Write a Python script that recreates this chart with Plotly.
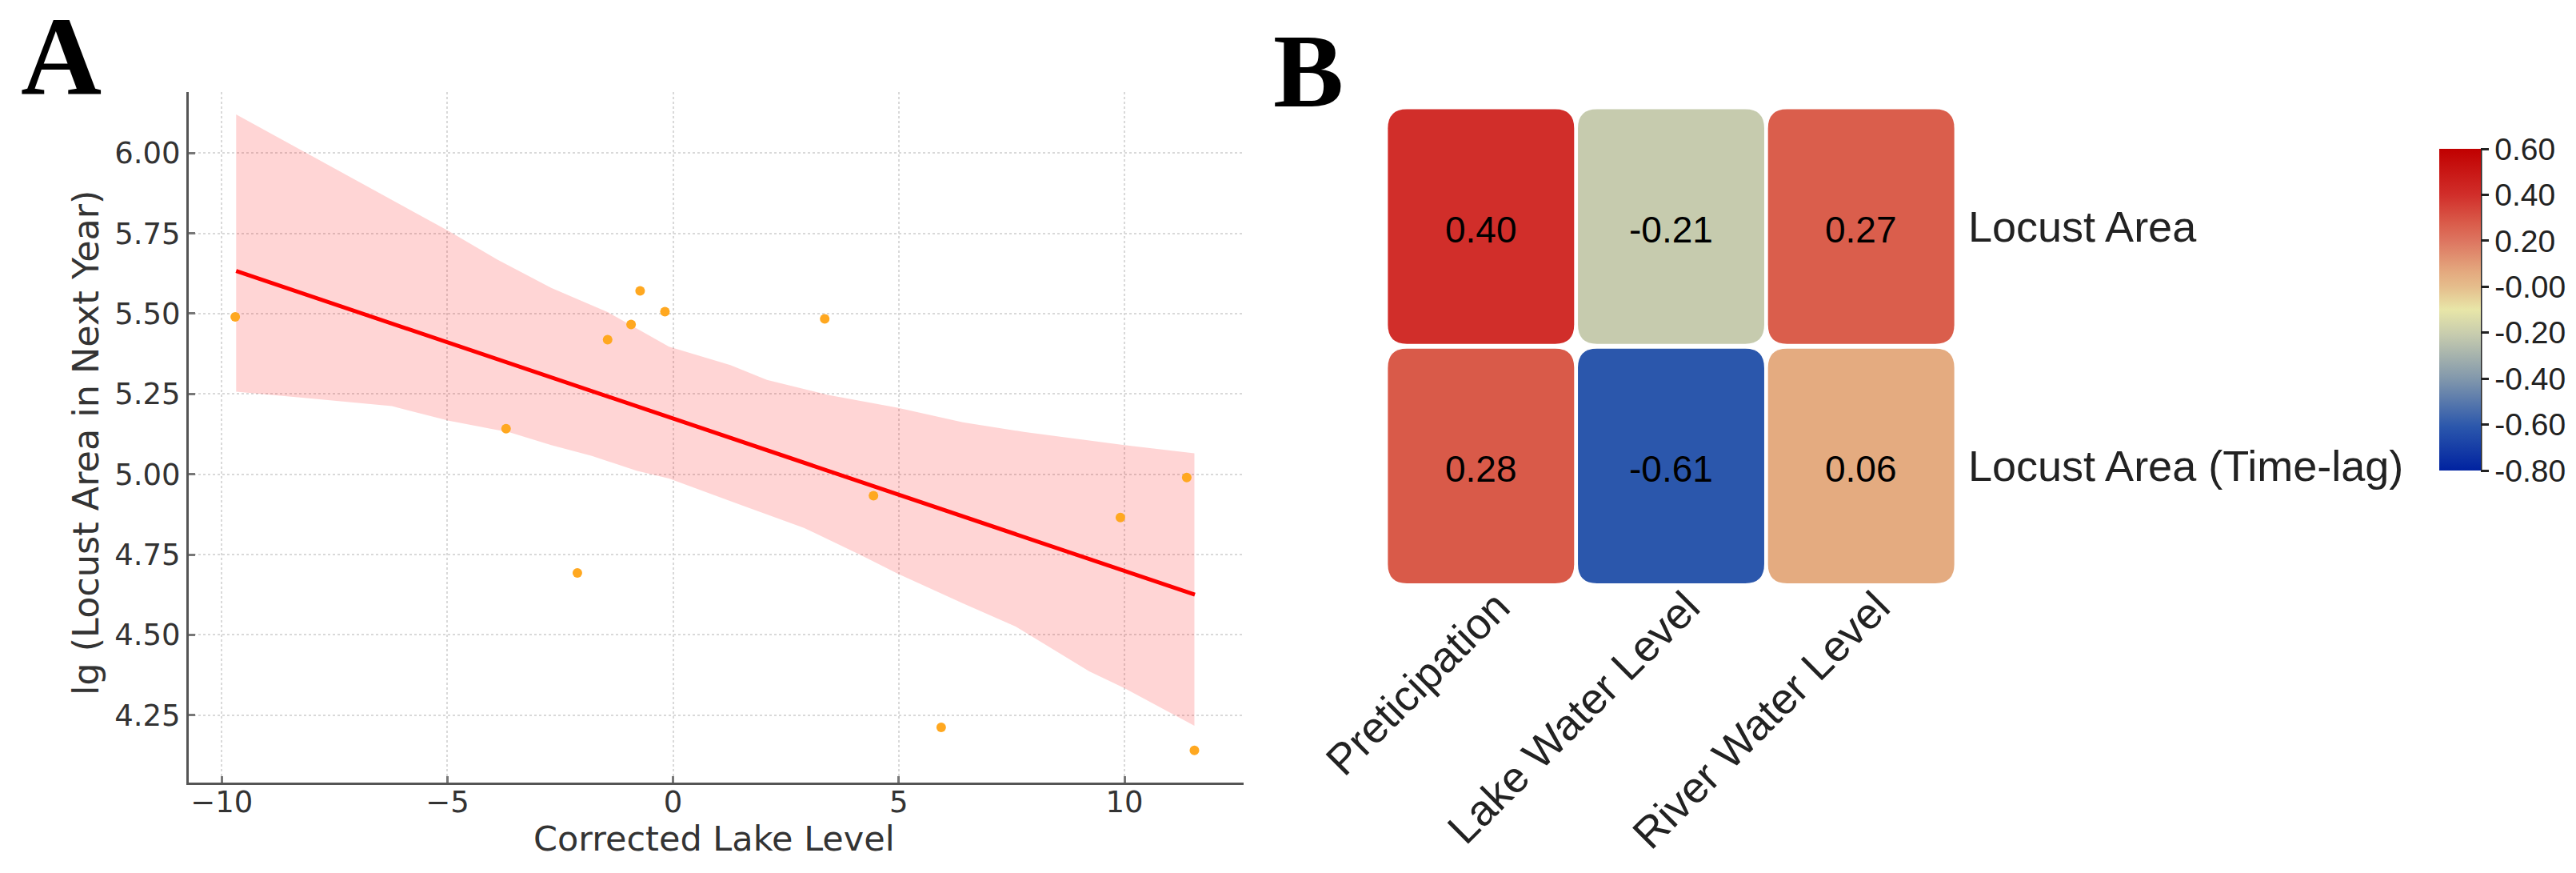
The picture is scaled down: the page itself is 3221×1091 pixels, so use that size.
import numpy as np
import plotly.colors as pc
import plotly.graph_objects as go

# panel A, values
lake_level = [-9.70, -3.70, -2.12, -1.45, -0.93, -0.73, -0.18, 3.36, 4.44, 5.94, 9.91, 11.38, 11.55]
locust_area = [5.49, 5.142, 4.693, 5.419, 5.466, 5.571, 5.506, 5.484, 4.933, 4.212, 4.865, 4.99, 4.14]

fit_x = [-9.68, 11.56]
fit_y = [5.633, 4.625]

band_upper_x = [-9.68, -8.12, -4.97, -3.89, -2.70, -1.44, -0.09, 1.27, 2.08, 3.43, 4.97, 6.42, 7.77, 10.0, 11.55]
band_upper_y = [6.12, 6.00, 5.757, 5.668, 5.58, 5.504, 5.397, 5.34, 5.294, 5.247, 5.207, 5.162, 5.132, 5.091, 5.065]
band_lower_x = [-9.68, -8.12, -6.23, -4.97, -3.61, -2.70, -1.80, -0.81, -0.09, 1.45, 2.9, 4.16, 4.97, 6.42, 7.59, 9.22, 10.0, 11.55]
band_lower_y = [5.257, 5.237, 5.212, 5.167, 5.13, 5.091, 5.057, 5.011, 4.987, 4.907, 4.833, 4.748, 4.691, 4.598, 4.526, 4.386, 4.334, 4.217]

x_ticks = [-10, -5, 0, 5, 10]
x_labels = ["\u221210", "\u22125", "0", "5", "10"]
y_ticks = [4.25, 4.50, 4.75, 5.00, 5.25, 5.50, 5.75, 6.00]

# panel B
drivers = ["Preticipation", "Lake Water Level", "River Water Level"]
targets = ["Locust Area", "Locust Area (Time-lag)"]
corr = [[0.40, -0.21, 0.27],
        [0.28, -0.61, 0.06]]
corr_text = [["0.40", "-0.21", "0.27"],
             ["0.28", "-0.61", "0.06"]]

cbar_ticks = [0.6, 0.4, 0.2, 0.0, -0.2, -0.4, -0.6, -0.8]
cbar_labels = ["0.60", "0.40", "0.20", "-0.00", "-0.20", "-0.40", "-0.60", "-0.80"]

colors = [[0.0, "#0022a0"], [0.136, "#2b57ac"], [0.286, "#8298ac"], [0.421, "#c6cbae"],
          [0.5, "#e8e6a8"], [0.571, "#e5bd8c"], [0.614, "#e4ab80"], [0.714, "#dd7560"],
          [0.764, "#da5e4c"], [0.857, "#d12e2a"], [1.0, "#c00000"]]
zmin, zmax = -0.8, 0.6

W, H = 3221, 1091

fig = go.Figure()

# confidence band
fig.add_trace(go.Scatter(x=band_upper_x + band_lower_x[::-1],
                         y=band_upper_y + band_lower_y[::-1],
                         fill="toself", fillcolor="rgba(255,0,0,0.165)",
                         mode="lines", line=dict(width=0), hoverinfo="skip",
                         xaxis="x", yaxis="y"))
fig.add_trace(go.Scatter(x=fit_x, y=fit_y, mode="lines",
                         line=dict(color="#ff0000", width=5),
                         xaxis="x", yaxis="y"))
fig.add_trace(go.Scatter(x=lake_level, y=locust_area, mode="markers",
                         marker=dict(color="#ffa820", size=12),
                         xaxis="x", yaxis="y"))

# rounded cells of the heatmap and their values
hw, hh = 0.49, 0.49
rx, ry = 0.10, 0.08
cells = []
notes = []
for r, row in enumerate(corr):
    for c, val in enumerate(row):
        col = pc.sample_colorscale(colors, (val - zmin) / (zmax - zmin))[0]
        x0, x1, y0, y1 = c - hw, c + hw, r - hh, r + hh
        path = (f"M {x0+rx} {y0} L {x1-rx} {y0} Q {x1} {y0} {x1} {y0+ry} "
                f"L {x1} {y1-ry} Q {x1} {y1} {x1-rx} {y1} "
                f"L {x0+rx} {y1} Q {x0} {y1} {x0} {y1-ry} "
                f"L {x0} {y0+ry} Q {x0} {y0} {x0+rx} {y0} Z")
        cells.append(dict(type="path", path=path, xref="x2", yref="y2",
                          fillcolor=col, line=dict(width=0), layer="below"))
        notes.append(dict(text=corr_text[r][c], x=c, y=r, xref="x2", yref="y2", showarrow=False,
                          yshift=-4, font=dict(family="Liberation Sans", size=46, color="black")))

# invisible markers, only there to carry the colorbar
cx, cy = np.meshgrid(range(len(drivers)), range(len(targets)))
fig.add_trace(go.Scatter(
    x=cx.ravel(), y=cy.ravel(), mode="markers",
    marker=dict(size=2, opacity=0, color=np.array(corr).ravel(), colorscale=colors,
                cmin=zmin, cmax=zmax, showscale=True,
                colorbar=dict(x=3049.5 / W, xanchor="left", xpad=0,
                              y=1 - 588 / H, yanchor="bottom", ypad=0,
                              len=402 / H, lenmode="fraction",
                              thickness=52, thicknessmode="pixels",
                              outlinewidth=0,
                              tickmode="array", tickvals=cbar_ticks, ticktext=cbar_labels,
                              ticks="outside", ticklen=10, tickwidth=3, tickcolor="#222",
                              tickfont=dict(family="Liberation Sans", size=39, color="#222"))),
    xaxis="x2", yaxis="y2"))

# dark line down the right side of the colorbar
cells.append(dict(type="line", xref="paper", yref="paper",
                  x0=3102 / W, x1=3102 / W, y0=1 - 588 / H, y1=1 - 186 / H,
                  line=dict(color="#222", width=3)))

axis_a = dict(showline=True, linecolor="#555", linewidth=3, mirror=False, automargin=False,
              ticks="inside", ticklen=8, tickwidth=3, tickcolor="#777",
              showgrid=True, gridcolor="#d9d9d9", griddash="dot", gridwidth=2,
              zeroline=False, tickfont=dict(family="DejaVu Sans", size=37, color="#333"))

fig.update_layout(
    width=W, height=H, autosize=False, showlegend=False,
    paper_bgcolor="white", plot_bgcolor="white",
    margin=dict(l=0, r=0, t=0, b=0),
    shapes=cells,
    xaxis=dict(axis_a, domain=[236 / W, 1555 / W], range=[-10.73, 12.64], anchor="y",
               tickmode="array", tickvals=x_ticks, ticktext=x_labels, ticklabelstandoff=-10),
    yaxis=dict(axis_a, domain=[1 - 978 / H, 1 - 115 / H], range=[4.04, 6.19], anchor="x",
               tickmode="array", tickvals=y_ticks, tickformat=".2f"),
    xaxis2=dict(domain=[1733 / W, 2446 / W], range=[-0.5, 2.5], anchor="y2", automargin=False,
                showgrid=False, zeroline=False, showline=False, ticks="",
                tickmode="array", tickvals=list(range(len(drivers))), ticktext=drivers,
                tickangle=-45, ticklabelshift=20, ticklabelstandoff=-17,
                tickfont=dict(family="Liberation Sans", size=54, color="#222")),
    yaxis2=dict(domain=[1 - 732 / H, 1 - 133.5 / H], range=[1.5, -0.5], anchor="x2", side="right",
                automargin=False,
                showgrid=False, zeroline=False, showline=False, ticks="",
                tickmode="array", tickvals=list(range(len(targets))), ticktext=targets,
                ticklabelstandoff=14,
                tickfont=dict(family="Liberation Sans", size=54, color="#222")),
    annotations=notes + [
        dict(text="<b>A</b>", x=76 / W, y=1 - 70 / H, xref="paper", yref="paper", showarrow=False,
             xanchor="center", yanchor="middle",
             font=dict(family="Liberation Serif", size=140, color="black")),
        dict(text="<b>B</b>", x=1636 / W, y=1 - 88 / H, xref="paper", yref="paper", showarrow=False,
             xanchor="center", yanchor="middle",
             font=dict(family="Liberation Serif", size=132, color="black")),
        # axis titles of panel A
        dict(text="Corrected Lake Level", x=893 / W, y=1 - 1048 / H, xref="paper", yref="paper",
             showarrow=False, xanchor="center", yanchor="middle",
             font=dict(family="DejaVu Sans", size=43, color="#333")),
        dict(text="lg (Locust Area in Next Year)", x=107 / W, y=1 - 554 / H, xref="paper", yref="paper",
             showarrow=False, xanchor="center", yanchor="middle", textangle=-90,
             font=dict(family="DejaVu Sans", size=44.5, color="#333")),
    ],
)

fig.write_html("out.html", config=dict(displayModeBar=False),
               post_script="document.body.style.margin='0';")
